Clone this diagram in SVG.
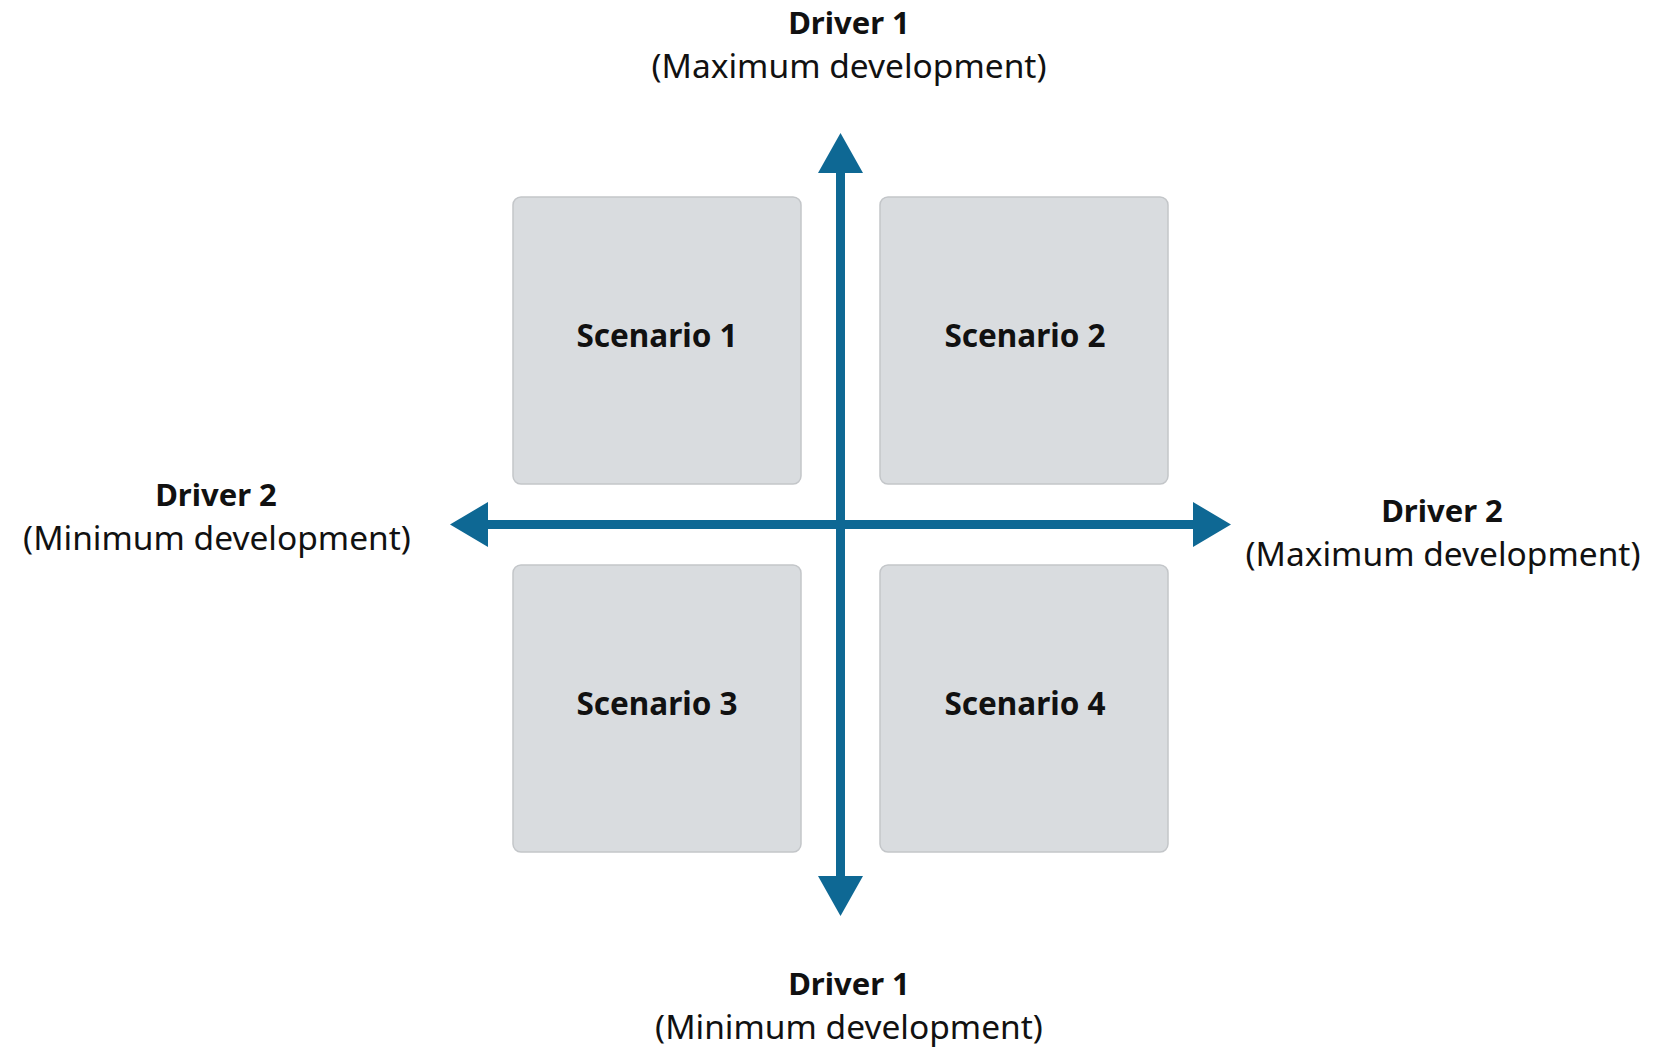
<svg xmlns="http://www.w3.org/2000/svg" width="1670" height="1047" viewBox="0 0 1670 1047">
<defs>
<style>
.box{fill:#d9dcdf;stroke:#c3c6c9;stroke-width:1.5}
.lbl{font-family:"Noto Sans","Open Sans",sans-serif;fill:#111;text-anchor:middle}
.b{font-weight:700;font-size:31px}
.r{font-weight:400;font-size:33.5px}
.sc{font-family:"Noto Sans","Open Sans",sans-serif;font-weight:700;font-size:31.5px;fill:#111;text-anchor:middle}
.ax{stroke:#0e6894;stroke-width:9;fill:none}
.ah{fill:#0e6894}
</style>
</defs>
<rect width="1670" height="1047" fill="#fff"/>
<g id="scenario1"><rect class="box" x="513" y="197" width="288" height="287" rx="8"/><text class="sc" x="657" y="347">Scenario 1</text></g>
<g id="scenario2"><rect class="box" x="880" y="197" width="288" height="287" rx="8"/><text class="sc" x="1025" y="347">Scenario 2</text></g>
<g id="scenario3"><rect class="box" x="513" y="565" width="288" height="287" rx="8"/><text class="sc" x="657" y="715">Scenario 3</text></g>
<g id="scenario4"><rect class="box" x="880" y="565" width="288" height="287" rx="8"/><text class="sc" x="1025" y="715">Scenario 4</text></g>
<g id="connectors">
<line class="ax" x1="840.5" y1="170" x2="840.5" y2="879"/>
<line class="ax" x1="485" y1="524.5" x2="1196" y2="524.5"/>
<polygon class="ah" points="840.5,133 863,173 818,173"/>
<polygon class="ah" points="840.5,916 863,876 818,876"/>
<polygon class="ah" points="450,524.5 488,502 488,547"/>
<polygon class="ah" points="1231,524.5 1193,502 1193,547"/>
</g>
<g id="label-top"><text class="lbl b" x="849" y="34">Driver 1</text><text class="lbl r" x="849" y="78">(Maximum development)</text></g>
<g id="label-bottom"><text class="lbl b" x="849" y="995">Driver 1</text><text class="lbl r" x="849" y="1039">(Minimum development)</text></g>
<g id="label-left"><text class="lbl b" x="216" y="506">Driver 2</text><text class="lbl r" x="217" y="550">(Minimum development)</text></g>
<g id="label-right"><text class="lbl b" x="1442" y="522">Driver 2</text><text class="lbl r" x="1443" y="566">(Maximum development)</text></g>
</svg>
